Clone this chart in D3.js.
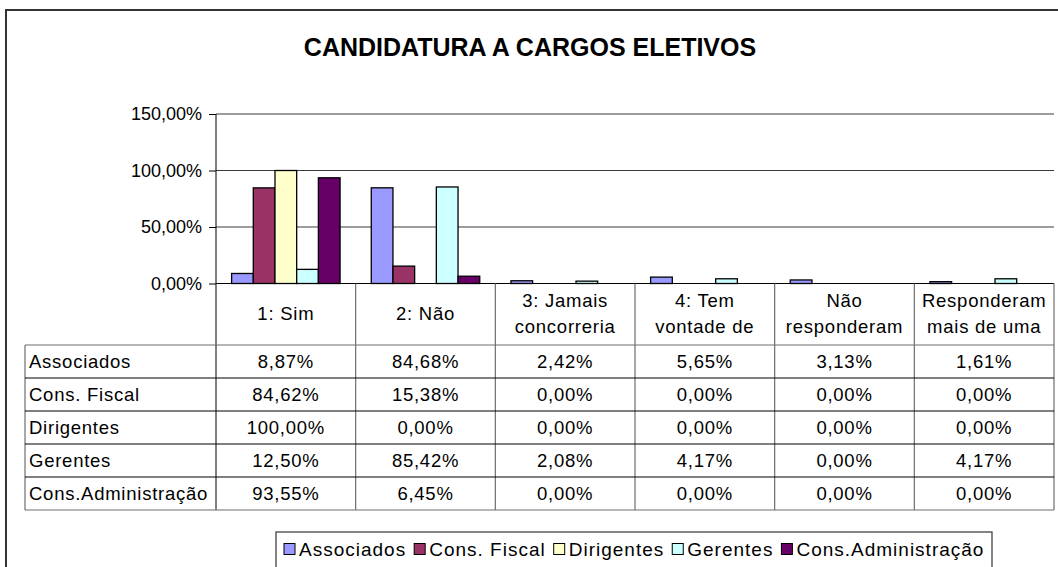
<!DOCTYPE html>
<html>
<head>
<meta charset="utf-8">
<script src="https://cdn.jsdelivr.net/npm/d3@7"></script>
<style>
  html, body { margin: 0; padding: 0; background: #fff; }
  svg { display: block; font-family: "Liberation Sans", Arial, sans-serif; }
</style>
</head>
<body>
<svg id="chart" width="1058" height="567"></svg>
<script>
// Response categories (each entry holds the lines of the column header)
const categories = [
  ["1: Sim"],
  ["2: Não"],
  ["3: Jamais", "concorreria"],
  ["4: Tem", "vontade de"],
  ["Não", "responderam"],
  ["Responderam", "mais de uma"]
];

// Groups of respondents
const seriesNames = ["Associados", "Cons. Fiscal", "Dirigentes", "Gerentes", "Cons.Administração"];
const seriesColors = ["#9999FF", "#993366", "#FFFFCC", "#CCFFFF", "#660066"];

// Percentages per group, in category order
const associados = [8.87, 84.68, 2.42, 5.65, 3.13, 1.61];
const consFiscal = [84.62, 15.38, 0.00, 0.00, 0.00, 0.00];
const dirigentes = [100.00, 0.00, 0.00, 0.00, 0.00, 0.00];
const gerentes = [12.50, 85.42, 2.08, 4.17, 0.00, 4.17];
const consAdministracao = [93.55, 6.45, 0.00, 0.00, 0.00, 0.00];

const seriesValues = [associados, consFiscal, dirigentes, gerentes, consAdministracao];

// Value axis ticks
const yTicks = [0, 50, 100, 150];

const fmtPct = v => v.toFixed(2).replace(".", ",") + "%";

const svg = d3.select("#chart");

// Plot geometry
const plotLeft = 216, plotRight = 1054, plotTop = 114, plotBottom = 283.5;
const headerBottom = 345, rowH = 33, tableLeft = 25;
const tableFont = 18.5, tableSpacing = 0.75;

const x = d3.scaleBand().domain(d3.range(categories.length)).range([plotLeft, plotRight]).padding(0);
const xs = d3.scaleBand().domain(d3.range(seriesNames.length))
  .range([15.6, x.bandwidth() - 15.6]).padding(0);
const y = d3.scaleLinear().domain([0, 150]).range([plotBottom, plotTop]);

// Chart area frame
svg.append("rect")
  .attr("x", 6).attr("y", 10).attr("width", 1070).attr("height", 580)
  .attr("fill", "#fff").attr("stroke", "#333").attr("stroke-width", 2);

// Title
svg.append("text")
  .attr("x", 530).attr("y", 56)
  .attr("text-anchor", "middle")
  .attr("font-size", 25).attr("font-weight", "bold")
  .text("CANDIDATURA A CARGOS ELETIVOS");

// Horizontal gridlines
svg.append("g").selectAll("line")
  .data(yTicks.filter(t => t > 0))
  .join("line")
  .attr("x1", plotLeft).attr("x2", plotRight)
  .attr("y1", d => y(d)).attr("y2", d => y(d))
  .attr("stroke", "#3a3a3a").attr("stroke-width", 1);

// Value axis
const yAxis = d3.axisLeft(y).tickValues(yTicks).tickSize(7).tickPadding(7)
  .tickFormat(d => fmtPct(d));
const gy = svg.append("g").attr("transform", `translate(${plotLeft},0)`).call(yAxis);
gy.select(".domain").remove();
gy.selectAll(".tick line").attr("stroke", "#000");
gy.selectAll(".tick text").attr("font-size", 18).attr("fill", "#000")
  .attr("font-family", "'Liberation Sans', Arial, sans-serif");
svg.append("line")
  .attr("x1", plotLeft).attr("x2", plotLeft)
  .attr("y1", plotTop).attr("y2", headerBottom)
  .attr("stroke", "#000");

// Bars
const groups = svg.append("g").selectAll("g")
  .data(seriesValues)
  .join("g")
  .attr("fill", (d, i) => seriesColors[i]);

groups.each(function (vals, si) {
  d3.select(this).selectAll("rect")
    .data(vals.map((v, ci) => ({ v, ci })).filter(d => d.v > 0))
    .join("rect")
    .attr("x", d => x(d.ci) + xs(si))
    .attr("width", xs.bandwidth())
    .attr("y", d => y(d.v))
    .attr("height", d => y(0) - y(d.v))
    .attr("stroke", "#000").attr("stroke-width", 1.3);
});

// Category axis line
svg.append("line")
  .attr("x1", plotLeft).attr("x2", plotRight)
  .attr("y1", plotBottom).attr("y2", plotBottom)
  .attr("stroke", "#000");

// Data table
const tableBottom = headerBottom + rowH * seriesNames.length;
const table = svg.append("g")
  .attr("font-size", tableFont)
  .attr("letter-spacing", tableSpacing);

// Column separators
table.selectAll("line.col")
  .data(d3.range(1, categories.length))
  .join("line").attr("class", "col")
  .attr("x1", d => x(d)).attr("x2", d => x(d))
  .attr("y1", plotBottom).attr("y2", tableBottom)
  .attr("stroke", "#6e6e6e").attr("stroke-width", 1.2);

table.append("line")
  .attr("x1", plotRight).attr("x2", plotRight)
  .attr("y1", plotBottom).attr("y2", tableBottom)
  .attr("stroke", "#6e6e6e").attr("stroke-width", 1.2);
table.append("line")
  .attr("x1", plotLeft).attr("x2", plotLeft)
  .attr("y1", headerBottom).attr("y2", tableBottom)
  .attr("stroke", "#000").attr("stroke-width", 1);
table.append("line")
  .attr("x1", tableLeft).attr("x2", tableLeft)
  .attr("y1", headerBottom).attr("y2", tableBottom)
  .attr("stroke", "#6e6e6e").attr("stroke-width", 1.2);

// Row separators
table.selectAll("line.row")
  .data(d3.range(seriesNames.length + 1))
  .join("line").attr("class", "row")
  .attr("x1", tableLeft).attr("x2", plotRight)
  .attr("y1", d => headerBottom + d * rowH).attr("y2", d => headerBottom + d * rowH)
  .attr("stroke", (d) => (d === 0 || d === seriesNames.length) ? "#6e6e6e" : "#000")
  .attr("stroke-width", (d) => (d === 0 || d === seriesNames.length) ? 1.2 : 1);

// Column headers
const hdr = table.selectAll("text.hdr")
  .data(categories)
  .join("text").attr("class", "hdr")
  .attr("text-anchor", "middle");
hdr.each(function (lines, ci) {
  const cy = (plotBottom + headerBottom) / 2;
  const start = cy - (lines.length - 1) * 13 + 5.5;
  d3.select(this).selectAll("tspan")
    .data(lines)
    .join("tspan")
    .attr("x", x(ci) + x.bandwidth() / 2)
    .attr("y", (d, i) => start + i * 26)
    .text(d => d);
});

// Row labels and values
seriesNames.forEach((name, si) => {
  const ty = headerBottom + si * rowH + rowH / 2 + 6.5;
  table.append("text")
    .attr("x", tableLeft + 4).attr("y", ty)
    .text(name);
  table.selectAll(null)
    .data(seriesValues[si])
    .join("text")
    .attr("x", (d, ci) => x(ci) + x.bandwidth() / 2)
    .attr("y", ty)
    .attr("text-anchor", "middle")
    .text(d => fmtPct(d));
});

// Legend
const legend = svg.append("g").attr("font-size", 19).attr("letter-spacing", 1.0);
legend.append("rect")
  .attr("x", 276).attr("y", 532).attr("width", 716).attr("height", 45)
  .attr("fill", "#fff").attr("stroke", "#333").attr("stroke-width", 1.2);

let lx = 284;
seriesNames.forEach((name, i) => {
  legend.append("rect")
    .attr("x", lx).attr("y", 543.5).attr("width", 11).attr("height", 11)
    .attr("fill", seriesColors[i]).attr("stroke", "#000").attr("stroke-width", 1);
  const t = legend.append("text")
    .attr("x", lx + 15).attr("y", 556)
    .text(name);
  lx += 15 + t.node().getComputedTextLength() + 8;
});
</script>
</body>
</html>
